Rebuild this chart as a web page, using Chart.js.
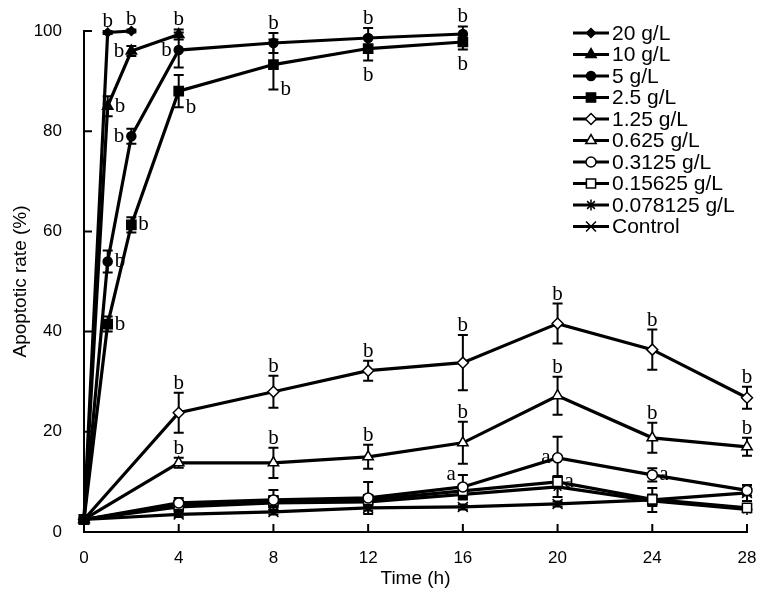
<!DOCTYPE html>
<html lang="en">
<head>
<meta charset="UTF-8">
<title>Apoptotic rate</title>
<script src="https://cdn.jsdelivr.net/npm/chart.js"></script>
<style>
  body { margin: 0; background: #fff; }
  #chart { display: block; }
</style>
</head>
<body>
<canvas id="chart" width="766" height="605"></canvas>
<script>
// time points (h)
const times = [0, 1, 2, 4, 8, 12, 16, 20, 24, 28];
const xTicks = [0, 4, 8, 12, 16, 20, 24, 28];
const yTicks = [0, 20, 40, 60, 80, 100];

const seriesNames = ['20 g/L', '10 g/L', '5 g/L', '2.5 g/L', '1.25 g/L', '0.625 g/L',
  '0.3125 g/L', '0.15625 g/L', '0.078125 g/L', 'Control'];

// apoptotic rate (%) per series, null = not measured
const rate20 = [2.5, 99.7, 100, null, null, null, null, null, null, null];
const rate10 = [2.5, 85, 96, 99.3, null, null, null, null, null, null];
const rate5 = [2.5, 54, 79, 96.2, 97.6, 98.6, 99.4, null, null, null];
const rate2_5 = [2.5, 41.5, 61.3, 88, 93.3, 96.5, 97.8, null, null, null];
const rate1_25 = [2.5, null, null, 23.8, 28, 32.2, 33.8, 41.6, 36.4, 26.8];
const rate0_625 = [2.5, null, null, 13.8, 13.8, 15, 17.8, 27.2, 18.8, 17];
const rate0_3125 = [2.5, null, null, 5.8, 6.4, 6.8, 9, 14.8, 11.4, 8.3];
const rate0_15625 = [2.5, null, null, 5.4, 6.2, 6.4, 8.2, 10, 6.5, 4.8];
const rate0_078125 = [2.5, null, null, 5, 5.8, 6, 7.5, 9, 6.2, 4.5];
const rateControl = [2.5, null, null, 3.5, 4, 4.8, 5, 5.6, 6.4, 7.8];

// error bars (+/-)
const err20 = [0, 0.3, 0.3, 0, 0, 0, 0, 0, 0, 0];
const err10 = [0, 2, 1, 1, 0, 0, 0, 0, 0, 0];
const err5 = [0, 2.2, 1.5, 3.5, 2, 2, 1.5, 0, 0, 0];
const err2_5 = [0, 1.5, 1.5, 3.2, 5, 2.4, 1.5, 0, 0, 0];
const err1_25 = [0, 0, 0, 4, 3.2, 2, 5.5, 4, 4, 2.2];
const err0_625 = [0, 0, 0, 1, 3, 2.4, 4.2, 3.8, 3, 1.8];
const err0_3125 = [0, 0, 0, 1, 2, 3.2, 2.4, 4.2, 1.3, 1];
const err0_15625 = [0, 0, 0, 0.8, 1, 1, 1.2, 1.2, 1, 0.8];
const err0_078125 = [0, 0, 0, 0.8, 0.8, 0.8, 1, 2, 1, 0.5];
const errControl = [0, 0, 0, 0.5, 0.5, 0.5, 0.5, 0.5, 2.4, 1.6];

// significance letters and where they sit (t = above, b = below, l = left, r = right)
const sig20 = ['', 'b', 'b', '', '', '', '', '', '', ''];
const sigPos20 = ['', 't', 't', '', '', '', '', '', '', ''];
const sig10 = ['', 'b', 'b', 'b', '', '', '', '', '', ''];
const sigPos10 = ['', 'r', 'l', 't', '', '', '', '', '', ''];
const sig5 = ['', 'b', 'b', 'b', 'b', 'b', 'b', '', '', ''];
const sigPos5 = ['', 'r', 'l', 'l', 't', 't', 't', '', '', ''];
const sig2_5 = ['', 'b', 'b', 'b', 'b', 'b', 'b', '', '', ''];
const sigPos2_5 = ['', 'r', 'r', 'rb', 'rb', 'b', 'b', '', '', ''];
const sig1_25 = ['', '', '', 'b', 'b', 'b', 'b', 'b', 'b', 'b'];
const sigPos1_25 = ['', '', '', 't', 't', 't', 't', 't', 't', 't'];
const sig0_625 = ['', '', '', 'b', 'b', 'b', 'b', 'b', 'b', 'b'];
const sigPos0_625 = ['', '', '', 't', 't', 't', 't', 't', 't', 't'];
const sig0_3125 = ['', '', '', '', '', '', 'a', 'a', 'a', ''];
const sigPos0_3125 = ['', '', '', '', '', '', 'lt', 'l', 'r', ''];
const sig0_15625 = ['', '', '', '', '', '', '', 'a', '', ''];
const sigPos0_15625 = ['', '', '', '', '', '', '', 'r', '', ''];

const allRates = [rate20, rate10, rate5, rate2_5, rate1_25, rate0_625, rate0_3125, rate0_15625, rate0_078125, rateControl];
const allErrs = [err20, err10, err5, err2_5, err1_25, err0_625, err0_3125, err0_15625, err0_078125, errControl];
const allSig = [sig20, sig10, sig5, sig2_5, sig1_25, sig0_625, sig0_3125, sig0_15625, [], []];
const allSigPos = [sigPos20, sigPos10, sigPos5, sigPos2_5, sigPos1_25, sigPos0_625, sigPos0_3125, sigPos0_15625, [], []];

// marker look
const markerStyle = [
  { style: 'rectRot', r: 4.5, fill: '#000' },
  { style: 'triangle', r: 6, fill: '#000' },
  { style: 'circle', r: 4.5, fill: '#000' },
  { style: 'rect', r: 6.5, fill: '#000' },
  { style: 'rectRot', r: 5.5, fill: '#fff' },
  { style: 'triangle', r: 6, fill: '#fff' },
  { style: 'circle', r: 5, fill: '#fff' },
  { style: 'rect', r: 6.5, fill: '#fff' },
  { style: 'star', r: 5.5, fill: '#000' },
  { style: 'crossRot', r: 7, fill: '#fff' }
];

const datasets = seriesNames.map((name, s) => {
  const pts = [];
  times.forEach((t, i) => {
    if (allRates[s][i] == null) return;
    pts.push({ x: t, y: allRates[s][i], e: allErrs[s][i], sig: allSig[s][i] || '', at: allSigPos[s][i] || '' });
  });
  const m = markerStyle[s];
  return {
    label: name,
    data: pts,
    borderColor: '#000',
    borderWidth: 3.2,
    backgroundColor: m.fill,
    pointStyle: m.style,
    pointRadius: m.r,
    pointBorderWidth: 1.5,
    pointBorderColor: '#000',
    pointBackgroundColor: m.fill,
    tension: 0,
    clip: false
  };
});

// error bars under the markers
const errorBars = {
  id: 'errorBars',
  beforeDatasetsDraw(chart) {
    const ctx = chart.ctx;
    const ys = chart.scales.y;
    ctx.save();
    ctx.strokeStyle = '#000';
    ctx.lineWidth = 2;
    chart.data.datasets.forEach((ds, s) => {
      const meta = chart.getDatasetMeta(s);
      ds.data.forEach((p, j) => {
        if (!p.e) return;
        const el = meta.data[j];
        const top = ys.getPixelForValue(p.y + p.e);
        const bot = ys.getPixelForValue(p.y - p.e);
        ctx.beginPath();
        ctx.moveTo(el.x, top); ctx.lineTo(el.x, bot);
        ctx.moveTo(el.x - 5, top); ctx.lineTo(el.x + 5, top);
        ctx.moveTo(el.x - 5, bot); ctx.lineTo(el.x + 5, bot);
        ctx.stroke();
      });
    });
    ctx.restore();
  }
};

// a / b letters
const sigLetters = {
  id: 'sigLetters',
  afterDatasetsDraw(chart) {
    const ctx = chart.ctx;
    const ys = chart.scales.y;
    ctx.save();
    ctx.fillStyle = '#000';
    ctx.font = '21px "Liberation Serif", "Times New Roman", serif';
    chart.data.datasets.forEach((ds, s) => {
      const meta = chart.getDatasetMeta(s);
      ds.data.forEach((p, j) => {
        if (!p.sig) return;
        const el = meta.data[j];
        const top = ys.getPixelForValue(p.y + p.e);
        const bot = ys.getPixelForValue(p.y - p.e);
        let x = el.x, y = el.y;
        if (p.at === 't') { ctx.textAlign = 'center'; ctx.textBaseline = 'alphabetic'; y = top - 4; }
        else if (p.at === 'b') { ctx.textAlign = 'center'; ctx.textBaseline = 'top'; y = bot + 4; }
        else if (p.at === 'r') { ctx.textAlign = 'left'; ctx.textBaseline = 'middle'; x += 7; }
        else if (p.at === 'rb') { ctx.textAlign = 'left'; ctx.textBaseline = 'middle'; x += 7; y = bot; }
        else if (p.at === 'l') { ctx.textAlign = 'right'; ctx.textBaseline = 'middle'; x -= 7; }
        else if (p.at === 'lt') { ctx.textAlign = 'right'; ctx.textBaseline = 'middle'; x -= 7; y = top; }
        ctx.fillText(p.sig, x, y);
      });
    });
    ctx.restore();
  }
};

// inward tick marks
const innerTicks = {
  id: 'innerTicks',
  afterDraw(chart) {
    const ctx = chart.ctx;
    const xs = chart.scales.x, ys = chart.scales.y;
    const a = chart.chartArea;
    ctx.save();
    ctx.strokeStyle = '#000';
    ctx.lineWidth = 2;
    ctx.beginPath();
    xTicks.forEach(v => {
      const px = xs.getPixelForValue(v);
      ctx.moveTo(px, a.bottom); ctx.lineTo(px, a.bottom - 8);
    });
    yTicks.forEach(v => {
      const py = ys.getPixelForValue(v);
      ctx.moveTo(a.left, py); ctx.lineTo(a.left + 8, py);
    });
    ctx.stroke();
    ctx.restore();
  }
};

// legend: line with marker, then label
const lineLegend = {
  id: 'lineLegend',
  afterDraw(chart) {
    const ctx = chart.ctx;
    const x0 = 573, x1 = 609, y0 = 33, step = 21.5;
    ctx.save();
    ctx.font = '21px "Liberation Sans", Arial, sans-serif';
    ctx.textBaseline = 'middle';
    ctx.textAlign = 'left';
    chart.data.datasets.forEach((ds, s) => {
      const y = y0 + s * step;
      ctx.strokeStyle = '#000';
      ctx.lineWidth = 3;
      ctx.beginPath();
      ctx.moveTo(x0, y); ctx.lineTo(x1, y);
      ctx.stroke();
      ctx.fillStyle = ds.pointBackgroundColor;
      ctx.lineWidth = 1.5;
      Chart.helpers.drawPoint(ctx, { pointStyle: ds.pointStyle, radius: ds.pointRadius, rotation: 0, borderWidth: 1.5 }, (x0 + x1) / 2, y);
      ctx.fillStyle = '#000';
      ctx.fillText(ds.label, x1 + 3, y + 1);
    });
    ctx.restore();
  }
};

Chart.defaults.font.family = '"Liberation Sans", Arial, sans-serif';
Chart.defaults.color = '#000';

new Chart(document.getElementById('chart'), {
  type: 'line',
  data: { datasets: datasets },
  options: {
    responsive: false,
    animation: false,
    devicePixelRatio: 1,
    layout: { padding: { top: 31, right: 19, left: 0, bottom: 0 } },
    plugins: { legend: { display: false }, tooltip: { enabled: false } },
    scales: {
      x: {
        type: 'linear',
        min: 0, max: 28,
        grid: { display: false },
        border: { display: true, color: '#000', width: 2 },
        ticks: { stepSize: 4, font: { size: 17 }, padding: 8 },
        title: { display: true, text: 'Time (h)', font: { size: 19 }, padding: { top: 0, bottom: 15 } },
        afterFit: (scale) => { scale.height = 73; }
      },
      y: {
        min: 0, max: 100,
        grid: { display: false },
        border: { display: true, color: '#000', width: 2 },
        ticks: { stepSize: 20, font: { size: 17 }, padding: 14 },
        title: { display: true, text: 'Apoptotic rate (%)', font: { size: 19 }, padding: { top: 9, bottom: 0 } },
        afterFit: (scale) => { scale.width = 84; }
      }
    }
  },
  plugins: [errorBars, sigLetters, innerTicks, lineLegend]
});
</script>
</body>
</html>
